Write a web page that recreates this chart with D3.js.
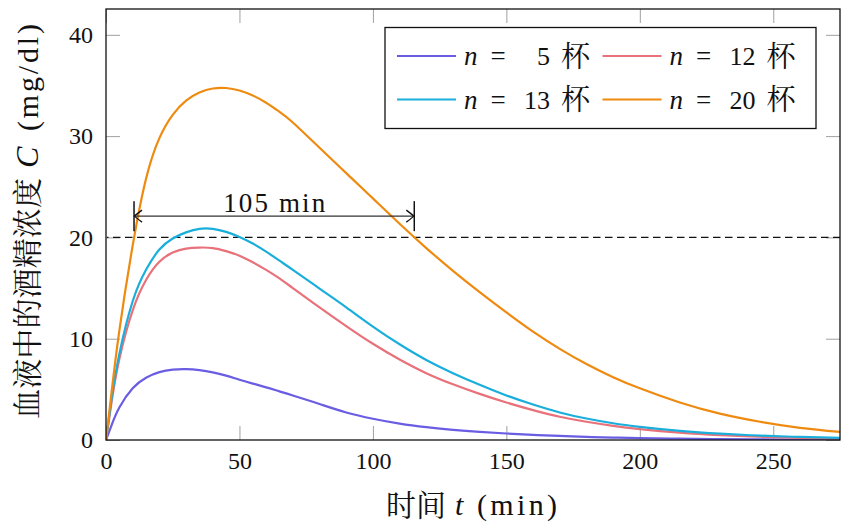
<!DOCTYPE html>
<html><head><meta charset="utf-8">
<script src="https://cdn.jsdelivr.net/npm/d3@7/dist/d3.min.js"></script>
<style>
body{margin:0;background:#fff}svg{display:block}
.serif{font-family:"Liberation Serif","Times New Roman","DejaVu Serif","Noto Serif",serif;}
.cjk{font-family:"Noto Serif CJK SC","Noto Sans CJK SC",sans-serif;}
</style>
</head><body>
<svg id="chart" width="850" height="526"></svg>
<script>
// ---- data ----
const times = [0,2,5,10,15,20,25,30,35,40,45,50,55,60,65,70,80,90,100,110,120,130,140,150,160,170,180,190,200,215,230,245,260,275];
const n5  = [0,1.4,3.2,5.1,6.15,6.7,6.95,7.0,6.9,6.68,6.35,5.95,5.57,5.2,4.8,4.4,3.55,2.72,2.1,1.62,1.27,1.0,0.8,0.64,0.5,0.4,0.31,0.24,0.19,0.13,0.09,0.06,0.04,0.03];
const n12 = [0,3.6,8.0,12.8,15.8,17.6,18.5,18.9,19.0,18.95,18.65,18.2,17.55,16.8,15.95,15.0,13.1,11.25,9.5,7.95,6.6,5.5,4.55,3.7,2.95,2.3,1.8,1.4,1.08,0.72,0.48,0.32,0.21,0.14];
const n13 = [0,3.9,8.5,13.7,16.8,18.8,19.9,20.5,20.85,20.85,20.55,20.05,19.4,18.6,17.7,16.8,14.95,13.1,11.2,9.45,7.9,6.6,5.45,4.4,3.5,2.72,2.12,1.65,1.3,0.9,0.62,0.43,0.3,0.21];
const n20 = [0,4.5,10.8,19.2,25.8,29.8,32.1,33.5,34.3,34.7,34.75,34.5,34.0,33.3,32.4,31.35,28.85,26.35,23.85,21.35,18.95,16.7,14.6,12.6,10.7,9.0,7.5,6.2,5.1,3.7,2.6,1.8,1.2,0.8];
const seriesLabels = ["5","12","13","20"];
const seriesData = [n5, n12, n13, n20];
const seriesColors = ["#6a5de3","#e8717a","#1aaedb","#ef8a10"];
const xTicks = [0,50,100,150,200,250];
const yTicks = [0,10,20,30,40];
const limitValue = 20;
const spanStart = 10.5, spanEnd = 115.5, spanLevel = 22.1, spanLabel = "105 min";

// ---- layout ----
const svg = d3.select("#chart");
const L = 106, R = 840, T = 9, B = 440;
const x = d3.scaleLinear().domain([0,275]).range([L,R]);
const y = d3.scaleLinear().domain([0,42.55]).range([B,T]);

svg.append("defs").append("clipPath").attr("id","clip")
  .append("rect").attr("x",L).attr("y",T).attr("width",R-L).attr("height",B-T);

function styleAxis(g, showText){
  g.attr("font-family",null);
  g.select(".domain").remove();
  g.selectAll(".tick line").attr("stroke","#a0a0a0").attr("stroke-width",1);
  g.selectAll(".tick text").attr("class","serif").attr("font-size",24).attr("fill","#111");
  if(!showText) g.selectAll(".tick text").remove();
}
svg.append("g").attr("transform",`translate(0,${B})`)
  .call(d3.axisBottom(x).tickValues(xTicks).tickSizeInner(-14).tickSizeOuter(0).tickPadding(12))
  .call(g=>styleAxis(g,true));
svg.append("g").attr("transform",`translate(0,${T})`)
  .call(d3.axisTop(x).tickValues(xTicks).tickSizeInner(-14).tickSizeOuter(0))
  .call(g=>styleAxis(g,false));
svg.append("g").attr("transform",`translate(${L},0)`)
  .call(d3.axisLeft(y).tickValues(yTicks).tickSizeInner(-14).tickSizeOuter(0).tickPadding(13))
  .call(g=>styleAxis(g,true));
svg.append("g").attr("transform",`translate(${R},0)`)
  .call(d3.axisRight(y).tickValues(yTicks).tickSizeInner(-14).tickSizeOuter(0))
  .call(g=>styleAxis(g,false));

// dashed limit line
svg.append("line").attr("x1",x(0)+1).attr("x2",R).attr("y1",y(limitValue)).attr("y2",y(limitValue))
  .attr("stroke","#111").attr("stroke-width",1.2).attr("stroke-dasharray","7.5 4.5").attr("stroke-dashoffset",-6);

// curves
const line = d3.line().x((d,i)=>x(times[i])).y(d=>y(d)).curve(d3.curveNatural);
const plot = svg.append("g").attr("clip-path","url(#clip)");
seriesData.forEach((s,k)=>{
  plot.append("path").datum(s).attr("d",line).attr("fill","none")
    .attr("stroke",seriesColors[k]).attr("stroke-width",2.2).attr("stroke-linejoin","round");
});

// span annotation
const ay = y(spanLevel);
const ann = svg.append("g").attr("fill","none");
ann.append("line").attr("x1",x(spanStart)).attr("x2",x(spanEnd)).attr("y1",ay).attr("y2",ay)
  .attr("stroke","#333").attr("stroke-width",1.3);
[spanStart, spanEnd].forEach((v,i)=>{
  const px = x(v), dir = i===0 ? 1 : -1;
  ann.append("line").attr("x1",px).attr("x2",px).attr("y1",ay-15).attr("y2",ay+15).attr("stroke","#111").attr("stroke-width",1.5);
  ann.append("path").attr("d",`M${px+dir*8},${ay-6} Q${px+dir*2},${ay-1.5} ${px+dir*0.5},${ay} Q${px+dir*2},${ay+1.5} ${px+dir*8},${ay+6}`)
    .attr("stroke","#111").attr("stroke-width",1.3);
});
svg.append("text").attr("class","serif").attr("x",(x(spanStart)+x(spanEnd))/2).attr("y",ay-4.5)
  .attr("text-anchor","middle").attr("font-size",27).attr("fill","#111")
  .attr("textLength",102).attr("lengthAdjust","spacing").text(spanLabel);

// frame
svg.append("rect").attr("x",L).attr("y",T).attr("width",R-L).attr("height",B-T)
  .attr("fill","none").attr("stroke","#111").attr("stroke-width",1.3);

// legend
const lg = svg.append("g");
lg.append("rect").attr("x",385).attr("y",27.5).attr("width",431).attr("height",101)
  .attr("fill","#fff").attr("stroke","#111").attr("stroke-width",1.3);
seriesLabels.forEach((lab,k)=>{
  const col = k%2, row = Math.floor(k/2);
  const x0 = col===0 ? 397 : 602.5, y0 = row===0 ? 56 : 99.5;
  lg.append("line").attr("x1",x0).attr("x2",x0+59).attr("y1",y0).attr("y2",y0)
    .attr("stroke",seriesColors[k]).attr("stroke-width",2.2);
  const tb = y0+9;
  lg.append("text").attr("class","serif").attr("x",x0+67).attr("y",tb).attr("font-style","italic")
    .attr("font-size",27).attr("fill","#111").text("n");
  lg.append("text").attr("class","serif").attr("x",x0+101).attr("y",tb).attr("text-anchor","middle")
    .attr("font-size",27).attr("fill","#111").text("=");
  lg.append("text").attr("class","serif").attr("x",x0+153).attr("y",tb).attr("text-anchor","end")
    .attr("font-size",26).attr("fill","#111").text(lab);
  lg.append("text").attr("class","cjk").attr("x",x0+164).attr("y",tb+1.5)
    .attr("font-size",29).attr("fill","#111").text("杯");
});

// x axis title
const xt = svg.append("g").attr("fill","#111");
xt.append("text").attr("class","cjk").attr("x",386).attr("y",516).attr("font-size",30).text("时间");
xt.append("text").attr("class","serif").attr("x",455).attr("y",515).attr("font-style","italic").attr("font-size",30).text("t");
xt.append("text").attr("class","serif").attr("x",477).attr("y",515).attr("font-size",30)
  .attr("textLength",80).attr("lengthAdjust","spacing").text("(min)");

// y axis title (rotated)
const yt = svg.append("g").attr("transform","translate(38,0) rotate(-90)").attr("fill","#111");
yt.append("text").attr("class","cjk").attr("x",-419).attr("y",0).attr("font-size",30)
  .attr("textLength",241).attr("lengthAdjust","spacing").text("血液中的酒精浓度");
yt.append("text").attr("class","serif").attr("x",-168).attr("y",0).attr("font-style","italic").attr("font-size",32).text("C");
yt.append("text").attr("class","serif").attr("x",-131).attr("y",0).attr("font-size",30)
  .attr("textLength",107).attr("lengthAdjust","spacing").text("(mg/dl)");
</script>
</body></html>
